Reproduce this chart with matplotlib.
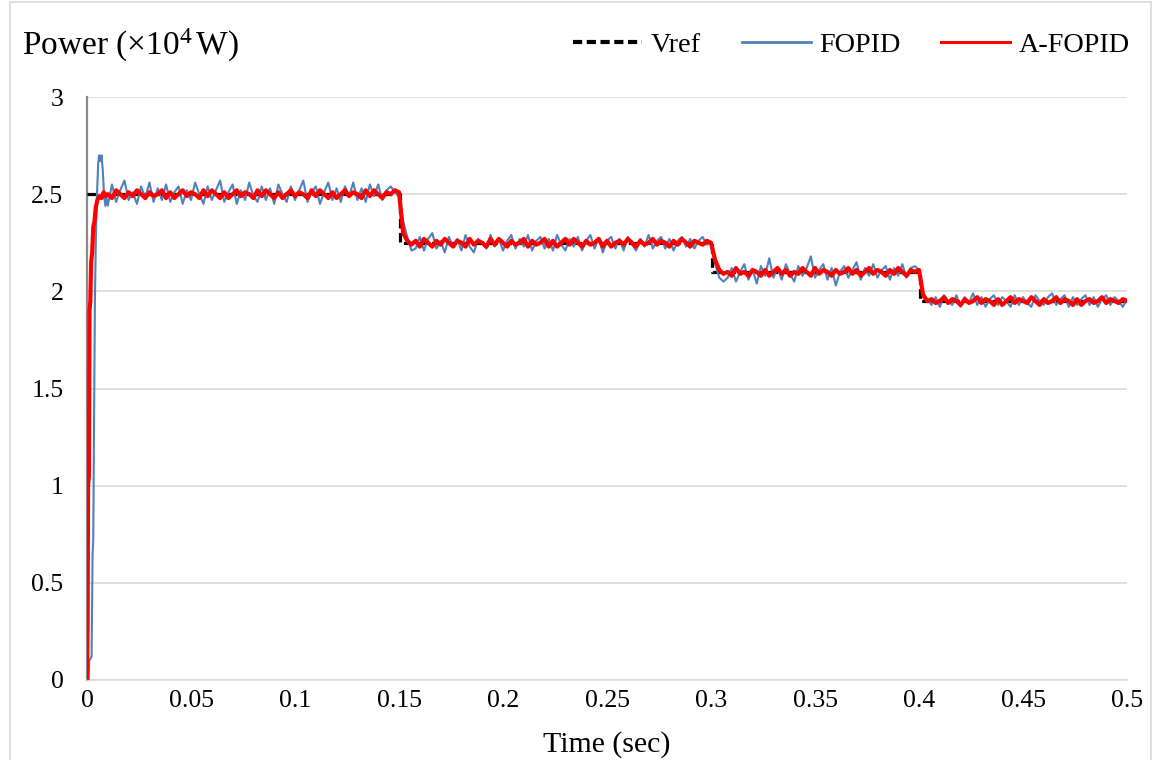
import numpy as np
import matplotlib
matplotlib.use("Agg")
import matplotlib.pyplot as plt
from matplotlib.patches import Rectangle

plt.rcParams['font.family'] = ['Liberation Serif', 'DejaVu Serif']
plt.rcParams['mathtext.fontset'] = 'custom'
plt.rcParams['mathtext.rm'] = 'Liberation Serif'
plt.rcParams['mathtext.it'] = 'Liberation Serif:italic'

# ---------------- data ----------------
x_ticks = [0, 0.05, 0.1, 0.15, 0.2, 0.25, 0.3, 0.35, 0.4, 0.45, 0.5]
x_tick_labels = ['0', '0.05', '0.1', '0.15', '0.2', '0.25', '0.3', '0.35', '0.4', '0.45', '0.5']
y_ticks = [0, 0.5, 1, 1.5, 2, 2.5, 3]
y_tick_labels = ['0', '0.5', '1', '1.5', '2', '2.5', '3']

# reference power (x1e4 W)
vref_t = [0.0, 0.1503, 0.1503, 0.3003, 0.3003, 0.4003, 0.4003, 0.5]
vref_p = [2.5, 2.5, 2.25, 2.25, 2.10, 2.10, 1.95, 1.95]

# start-up transient (t < 0.010 s)
fopid_t_start = [0.0, 0.0008, 0.0011, 0.0022, 0.0027, 0.0030, 0.0034, 0.0038, 0.0043,
                 0.0048, 0.0054, 0.0058, 0.0064, 0.0070, 0.0076, 0.0082, 0.0088, 0.0094]
fopid_p_start = [0.0, 0.0, 0.1, 0.12, 0.65, 0.72, 1.30, 1.95, 2.30,
                 2.50, 2.66, 2.70, 2.67, 2.70, 2.62, 2.50, 2.44, 2.48]

afopid_t_start = [0.0, 0.0003, 0.0005, 0.0009, 0.0012, 0.0016, 0.0020, 0.0025, 0.0030,
                  0.0036, 0.0042, 0.0050, 0.0060, 0.0070, 0.0080, 0.0090]
afopid_p_start = [0.0, 0.30, 1.00, 1.05, 1.90, 1.95, 2.15, 2.20, 2.33,
                  2.36, 2.43, 2.47, 2.49, 2.48, 2.51, 2.49]

# sampled signal, every 2 ms from 0.010 s to 0.500 s
sample_start = 0.010
sample_step = 0.002

fopid_a = [2.44, 2.55, 2.46, 2.52, 2.57, 2.47, 2.51, 2.45, 2.54, 2.48,
           2.56, 2.46, 2.53, 2.47, 2.55, 2.46, 2.51, 2.54, 2.45, 2.52,
           2.47, 2.56, 2.50, 2.45, 2.54, 2.47, 2.52, 2.57, 2.46, 2.51,
           2.55, 2.45, 2.52, 2.47, 2.56, 2.49, 2.46, 2.54, 2.47, 2.53,
           2.45, 2.55, 2.50, 2.46, 2.54, 2.47, 2.52, 2.57, 2.46, 2.51,
           2.54, 2.45, 2.51, 2.56, 2.47, 2.53, 2.46, 2.54, 2.49, 2.56,
           2.47, 2.53, 2.46, 2.55, 2.49, 2.55, 2.47, 2.52, 2.54, 2.51]
fopid_b = [2.49, 2.36, 2.28, 2.21,
           2.22, 2.28, 2.21, 2.27, 2.30, 2.22, 2.26, 2.20, 2.28, 2.23,
           2.27, 2.21, 2.29, 2.23, 2.20, 2.27, 2.25, 2.22, 2.29, 2.23,
           2.27, 2.21, 2.26, 2.29, 2.22, 2.27, 2.23, 2.29, 2.21, 2.26,
           2.28, 2.22, 2.27, 2.21, 2.29, 2.24, 2.21, 2.27, 2.23, 2.28,
           2.21, 2.26, 2.29, 2.22, 2.27, 2.20, 2.26, 2.28, 2.22, 2.27,
           2.21, 2.28, 2.24, 2.21, 2.27, 2.23, 2.29, 2.22, 2.26, 2.28,
           2.22, 2.27, 2.21, 2.26, 2.28, 2.23, 2.27, 2.22, 2.26, 2.28, 2.24]
fopid_c = [2.25, 2.14, 2.07, 2.05,
           2.07, 2.12, 2.05, 2.10, 2.14, 2.06, 2.11, 2.04, 2.13, 2.08,
           2.17, 2.07, 2.12, 2.06, 2.14, 2.09, 2.05, 2.13, 2.08, 2.12,
           2.18, 2.07, 2.11, 2.14, 2.06, 2.12, 2.03, 2.10, 2.13, 2.07,
           2.11, 2.15, 2.06, 2.12, 2.08, 2.14, 2.07, 2.11, 2.13, 2.06,
           2.12, 2.08, 2.14, 2.07, 2.12, 2.13]
fopid_d = [2.11, 1.99, 1.96,
           1.93, 1.97, 1.92, 1.98, 1.95, 1.93, 1.98, 1.92, 1.97, 1.94,
           1.99, 1.93, 1.97, 1.92, 1.96, 1.98, 1.93, 1.97, 1.95, 1.92,
           1.98, 1.93, 1.97, 1.94, 1.92, 1.98, 1.95, 1.93, 1.97, 1.99,
           1.93, 1.96, 1.98, 1.92, 1.97, 1.93, 1.96, 1.98, 1.93, 1.97,
           1.92, 1.96, 1.98, 1.93, 1.97, 1.95, 1.92, 1.96]

afopid_a = [2.50, 2.48, 2.52, 2.50, 2.48, 2.51, 2.49, 2.52, 2.50, 2.48,
            2.51, 2.49, 2.50, 2.52, 2.48, 2.51, 2.48, 2.50, 2.52, 2.49,
            2.51, 2.50, 2.48, 2.52, 2.49, 2.52, 2.50, 2.48, 2.51, 2.48,
            2.50, 2.52, 2.49, 2.51, 2.50, 2.48, 2.52, 2.49, 2.52, 2.50,
            2.48, 2.51, 2.48, 2.50, 2.52, 2.49, 2.51, 2.50, 2.48, 2.52,
            2.49, 2.52, 2.50, 2.48, 2.51, 2.48, 2.50, 2.52, 2.49, 2.51,
            2.50, 2.48, 2.52, 2.49, 2.52, 2.50, 2.48, 2.51, 2.50, 2.52]
afopid_b = [2.51, 2.30, 2.26, 2.24,
            2.26, 2.23, 2.27, 2.25, 2.23, 2.26, 2.24, 2.27, 2.25, 2.23,
            2.26, 2.25, 2.23, 2.27, 2.24, 2.26, 2.25, 2.23, 2.27, 2.24,
            2.27, 2.25, 2.23, 2.26, 2.24, 2.25, 2.27, 2.23, 2.26, 2.24,
            2.25, 2.27, 2.23, 2.26, 2.23, 2.25, 2.27, 2.24, 2.27, 2.25,
            2.23, 2.26, 2.24, 2.25, 2.27, 2.23, 2.26, 2.23, 2.25, 2.26,
            2.24, 2.27, 2.25, 2.23, 2.26, 2.24, 2.25, 2.27, 2.24, 2.26,
            2.25, 2.23, 2.26, 2.24, 2.27, 2.25, 2.23, 2.26, 2.25, 2.24, 2.26]
afopid_c = [2.25, 2.16, 2.11, 2.09,
            2.10, 2.08, 2.12, 2.09, 2.10, 2.08, 2.11, 2.10, 2.08, 2.11,
            2.08, 2.10, 2.12, 2.09, 2.11, 2.08, 2.10, 2.09, 2.12, 2.10,
            2.08, 2.12, 2.09, 2.11, 2.10, 2.08, 2.11, 2.09, 2.10, 2.12,
            2.09, 2.11, 2.08, 2.10, 2.12, 2.09, 2.11, 2.10, 2.08, 2.11,
            2.09, 2.12, 2.10, 2.08, 2.11, 2.10]
afopid_d = [2.11, 1.98, 1.95,
            1.96, 1.94, 1.95, 1.97, 1.94, 1.96, 1.95, 1.93, 1.96, 1.94,
            1.95, 1.97, 1.94, 1.96, 1.95, 1.93, 1.96, 1.93, 1.95, 1.97,
            1.94, 1.96, 1.95, 1.94, 1.97, 1.95, 1.93, 1.96, 1.94, 1.95,
            1.97, 1.94, 1.96, 1.95, 1.93, 1.96, 1.93, 1.95, 1.96, 1.94,
            1.95, 1.97, 1.94, 1.96, 1.95, 1.94, 1.96, 1.95]

# ---------------- assemble ----------------
fopid_main = fopid_a + fopid_b + fopid_c + fopid_d
afopid_main = afopid_a + afopid_b + afopid_c + afopid_d
n_main = len(fopid_main)
t_main = list(np.round(sample_start + sample_step * np.arange(n_main), 4))

fopid_t = fopid_t_start + t_main
fopid_p = fopid_p_start + fopid_main
afopid_t = afopid_t_start + t_main[:len(afopid_main)]
afopid_p = afopid_p_start + afopid_main

# ---------------- plot ----------------
W, H = 1155, 760
fig = plt.figure(figsize=(W / 100, H / 100), dpi=100)
ax = fig.add_axes([87 / W, 1 - 680 / H, (1127 - 87) / W, (680 - 97) / H])

grid_c = '#d9d9d9'
ax.set_xlim(0, 0.5)
ax.set_ylim(0, 3)
ax.set_yticks(y_ticks)
ax.set_yticklabels(y_tick_labels)
ax.set_xticks(x_ticks)
ax.set_xticklabels(x_tick_labels)
ax.yaxis.grid(True, color=grid_c, lw=1.2)
ax.set_axisbelow(True)
for s in ['top', 'right']:
    ax.spines[s].set_visible(False)
ax.spines['bottom'].set_color(grid_c)
ax.spines['bottom'].set_linewidth(1.2)
ax.spines['left'].set_color('#8c8c8c')
ax.spines['left'].set_linewidth(1.6)
ax.tick_params(axis='both', length=0, labelsize=18.5, colors='black')
ax.tick_params(axis='y', pad=17)
ax.tick_params(axis='x', pad=7)

l1, = ax.plot(vref_t, vref_p, color='black', lw=2.3, ls=(0, (3.0, 1.4)),
              label='Vref', zorder=3)
l2, = ax.plot(fopid_t, fopid_p, color='#4f81bd', lw=1.5, label='FOPID', zorder=4)
l3, = ax.plot(afopid_t, afopid_p, color='#ff0000', lw=3.0, label='A-FOPID', zorder=5)

ax.set_xlabel('Time (sec)', fontsize=21.5, labelpad=14)

fig.text(22 / W, 1 - 45 / H, 'Power (×10$^{4}\\,$W)', fontsize=24,
         ha='left', va='center')

leg = fig.legend(handles=[l1, l2, l3], loc='center right',
                 bbox_to_anchor=(1130 / W, 1 - 45 / H), ncol=3, frameon=False,
                 fontsize=20.3, handlelength=2.45, handletextpad=0.3,
                 columnspacing=1.45, borderpad=0, borderaxespad=0)
leg_h = leg.legend_handles
leg_h[0].set_linewidth(3.0)
leg_h[0].set_linestyle((0, (2.2, 1.1)))
leg_h[1].set_linewidth(2.0)
leg_h[2].set_linewidth(2.2)

fig.patches.append(Rectangle((10 / W, -0.01), (W - 14) / W, 1.0 - 2 / H + 0.01,
                             transform=fig.transFigure, fill=False,
                             edgecolor='#d9d9d9', lw=1.2))

fig.savefig('out.png', dpi=100)
